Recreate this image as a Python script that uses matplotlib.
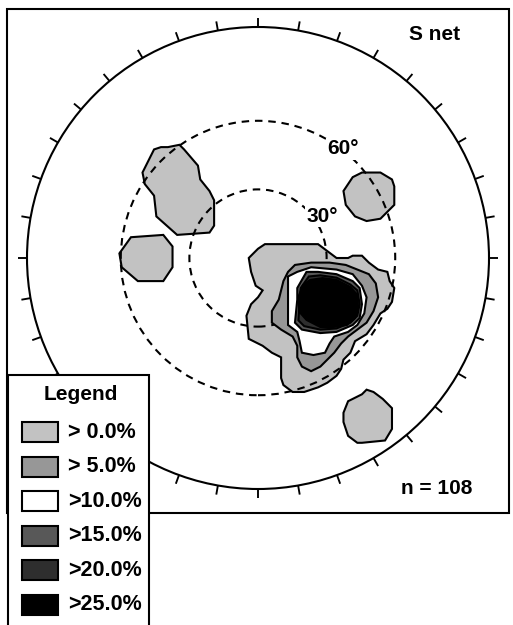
import numpy as np
import matplotlib

matplotlib.use("Agg")
import matplotlib.pyplot as plt
from matplotlib.patches import Circle, Rectangle

plt.rcParams["font.family"] = ["Liberation Sans", "DejaVu Sans"]
plt.rcParams["font.weight"] = "bold"

# contour levels (percent of points per counting area)
LEVEL_LABELS = ["> 0.0%", "> 5.0%", ">10.0%", ">15.0%", ">20.0%", ">25.0%"]
LEVEL_COLORS = ["#c2c2c2", "#979797", "#ffffff", "#585858", "#2e2e2e", "#000000"]
N_POINTS = 108
NET_NAME = "S net"

# dashed reference circles and where their labels sit (azimuth, deg)
RING_DEG = [30, 60]
RING_LABEL_AZ = [57, 38]
RING_LABEL_PAD = [3.5, 0.5]
EDGE_DEG = 101

# contour outlines: x east, y north, in percent of the net radius
BLOB_NW = [(-45, 47), (-42, 48), (-39, 48), (-34, 49), (-32, 47), (-26, 40),
           (-25, 34), (-21, 29), (-19, 25), (-19, 14), (-21, 11), (-35, 10),
           (-44, 18), (-45, 27), (-49, 32), (-50, 37), (-48, 41), (-46, 45)]
BLOB_W = [(-55, 9), (-41, 10), (-37, 5), (-37, -4), (-41, -10), (-52, -10),
          (-59, -4), (-60, 2)]
BLOB_NE = [(41, 35), (45, 37), (53, 37), (58, 34), (59, 31), (59, 23),
           (57, 21), (53, 17), (47, 16), (42, 18), (38, 23), (37, 29)]
BLOB_SE = [(39, -62), (43, -60), (45, -59), (47, -57), (50, -58), (54, -61),
           (58, -65), (58, -71), (58, -74), (55, -79), (45, -80), (43, -80),
           (39, -77), (37, -71), (37, -67)]

MAIN_GT0 = [(0, 4), (3, 6), (26, 6), (30, 3), (34, 0), (39, 0), (41, 1),
            (45, 1), (48, -2), (52, -5), (56, -6), (57, -10), (59, -13),
            (58, -19), (56, -22), (53, -24), (50, -29), (47, -33), (42, -36),
            (40, -41), (37, -44), (36, -48), (34, -51), (30, -54), (26, -56),
            (20, -58), (15, -58), (11, -55), (10, -52), (10, -43), (6, -41),
            (2, -38), (-4, -35), (-5, -25), (-3, -20), (0, -17), (2, -14),
            (-1, -12), (-3, -6), (-4, 0)]
MAIN_GT5 = [(13, -6), (16, -3), (23, -2), (31, -2), (38, -3), (43, -5),
            (48, -7), (51, -11), (52, -17), (50, -23), (47, -28), (43, -31),
            (39, -34), (36, -37), (33, -41), (30, -44), (27, -47), (23, -49),
            (19, -47), (17, -43), (17, -38), (15, -34), (10, -31), (6, -28),
            (6, -23), (9, -18), (10, -14), (11, -10)]
MAIN_GT10 = [(13, -8), (17, -6), (23, -4), (34, -5), (41, -7), (45, -12),
             (47, -17), (46, -24), (43, -29), (39, -32), (33, -34), (31, -37),
             (29, -41), (24, -42), (19, -41), (18, -36), (17, -32), (13, -29),
             (13, -23), (13, -16)]
MAIN_GT15 = [(21, -6), (26, -6), (34, -7), (41, -10), (44, -13), (45, -20),
             (44, -26), (41, -29), (34, -32), (27, -32.5), (19, -31),
             (16, -28), (17, -18), (17, -13)]
MAIN_GT20 = [(22, -8), (27, -7.5), (34, -8.5), (40, -11.5), (43, -14),
             (44, -20), (43, -25), (40, -28), (34, -30.5), (27, -31),
             (20, -29.5), (17.5, -27), (18, -18), (18.5, -13)]
MAIN_GT25 = [(19.5, -11.7), (22.5, -9.5), (28, -8.7), (34, -9.5), (40, -12.6),
             (43, -16), (43.3, -21.6), (42, -26), (38.5, -29), (32.5, -29.9),
             (27, -29.9), (21, -26.8), (18, -23.4), (17.3, -17.3)]

LEVEL_POLYGONS = [
    [BLOB_NW, BLOB_W, BLOB_NE, BLOB_SE, MAIN_GT0],
    [MAIN_GT5],
    [MAIN_GT10],
    [MAIN_GT15],
    [MAIN_GT20],
    [MAIN_GT25],
]

W, H = 513, 625
CX, CY = 258, 258   # net centre in pixels
PX = 2.31           # pixels per percent of net radius
LW = 1.5

fig = plt.figure(figsize=(W / 100, H / 100), dpi=100)

# --- the net, in percent-of-radius units
ax = fig.add_axes([0, 0, 1, 1], zorder=1)
ax.set_xlim(-CX / PX, (W - CX) / PX)
ax.set_ylim(-(H - CY) / PX, CY / PX)
ax.axis("off")

ax.add_patch(Circle((0, 0), 100, fill=False, lw=LW, color="black", zorder=2))
for az in np.deg2rad(np.arange(0, 360, 10)):
    ax.plot([100 * np.sin(az), 104 * np.sin(az)],
            [100 * np.cos(az), 104 * np.cos(az)],
            color="black", lw=LW * 0.9, solid_capstyle="butt", zorder=2)

for level, (polys, color) in enumerate(zip(LEVEL_POLYGONS, LEVEL_COLORS)):
    for poly in polys:
        xs, ys = zip(*poly)
        ax.fill(xs, ys, facecolor=color, edgecolor="black", lw=LW,
                joinstyle="miter", zorder=4 if level == 0 else 6 + level)

# dashed circles sit above the lowest level only
for deg, az, pad in zip(RING_DEG, RING_LABEL_AZ, RING_LABEL_PAD):
    r = deg / EDGE_DEG * 100
    ax.add_patch(Circle((0, 0), r, fill=False, lw=LW, color="black",
                        ls=(0, (3.6, 2.8)), zorder=5))
    a = np.deg2rad(az)
    ax.text((r + pad) * np.sin(a), (r + pad) * np.cos(a), f"{deg}°",
            fontsize=15, ha="center", va="center", zorder=6,
            bbox=dict(facecolor="white", edgecolor="none", pad=1.0))

# --- page furniture in pixel units
ov = fig.add_axes([0, 0, 1, 1], zorder=5)
ov.set_xlim(0, W)
ov.set_ylim(H, 0)
ov.axis("off")
ov.patch.set_alpha(0)

ov.add_patch(Rectangle((7, 9), 502, 504, fill=False, lw=LW, edgecolor="black"))
ov.text(435, 34, NET_NAME, fontsize=15, ha="center", va="center")
ov.text(437, 488, f"n = {N_POINTS}", fontsize=15, ha="center", va="center")

ov.add_patch(Rectangle((8, 375), 141, 270, facecolor="white",
                       edgecolor="black", lw=LW, zorder=3))
ov.text(81, 394, "Legend", fontsize=15, ha="center", va="center", zorder=4)
for i, (label, color) in enumerate(zip(LEVEL_LABELS, LEVEL_COLORS)):
    top = 422 + i * 34.6
    ov.add_patch(Rectangle((22, top), 36, 20, facecolor=color,
                           edgecolor="black", lw=LW, zorder=4))
    ov.text(68, top + 10, label, fontsize=15.5, ha="left", va="center", zorder=4)

fig.savefig("out.png", dpi=100)
plt.close(fig)
